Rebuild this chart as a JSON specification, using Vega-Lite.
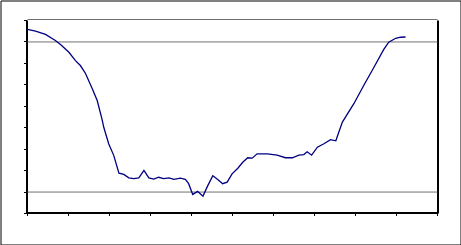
{
  "$schema": "https://vega.github.io/schema/vega-lite/v6.json",
  "width": 460,
  "height": 244,
  "padding": 0.5,
  "autosize": {"type": "none"},
  "background": "white",
  "config": {
    "view": {"stroke": "black", "strokeWidth": 1},
    "axis": {"translate": 0}
  },
  "datasets": {
    "series": [
      {"x": 0, "y": 85.9}, {"x": 1.95, "y": 85.0}, {"x": 4.4, "y": 83.5}, {"x": 6.8, "y": 80.7},
      {"x": 8.05, "y": 78.8}, {"x": 10.1, "y": 75.2}, {"x": 11.7, "y": 71.3}, {"x": 12.9, "y": 69.0},
      {"x": 14.15, "y": 65.3}, {"x": 15.8, "y": 58.2}, {"x": 17.0, "y": 52.7}, {"x": 18.2, "y": 43.8},
      {"x": 18.6, "y": 40.2}, {"x": 19.8, "y": 32.5}, {"x": 21.05, "y": 27.0}, {"x": 22.3, "y": 18.8},
      {"x": 23.5, "y": 18.2}, {"x": 24.7, "y": 16.6}, {"x": 25.9, "y": 16.3}, {"x": 27.15, "y": 16.6},
      {"x": 28.4, "y": 20.1}, {"x": 29.6, "y": 16.6}, {"x": 30.8, "y": 16.0}, {"x": 32.0, "y": 16.9},
      {"x": 33.2, "y": 16.3}, {"x": 34.5, "y": 16.6}, {"x": 35.7, "y": 15.9}, {"x": 37.3, "y": 16.5},
      {"x": 38.5, "y": 15.9}, {"x": 39.3, "y": 13.9}, {"x": 40.3, "y": 8.9}, {"x": 41.5, "y": 10.3},
      {"x": 42.8, "y": 8.1}, {"x": 44.0, "y": 13.1}, {"x": 45.2, "y": 17.6}, {"x": 46.4, "y": 15.9},
      {"x": 47.6, "y": 13.9}, {"x": 48.7, "y": 14.6}, {"x": 49.9, "y": 18.5}, {"x": 51.3, "y": 21.1},
      {"x": 52.5, "y": 23.9}, {"x": 53.7, "y": 26.0}, {"x": 54.8, "y": 25.8}, {"x": 56.0, "y": 27.8},
      {"x": 58.5, "y": 27.8}, {"x": 60.9, "y": 27.2}, {"x": 62.9, "y": 26.0}, {"x": 64.6, "y": 26.0},
      {"x": 66.2, "y": 27.2}, {"x": 67.4, "y": 27.5}, {"x": 68.2, "y": 28.8}, {"x": 69.3, "y": 27.2},
      {"x": 70.7, "y": 30.9}, {"x": 72.3, "y": 32.5}, {"x": 73.9, "y": 34.4}, {"x": 75.2, "y": 33.9},
      {"x": 76.8, "y": 42.6}, {"x": 79.6, "y": 51.2}, {"x": 82.0, "y": 59.7}, {"x": 84.5, "y": 68.2},
      {"x": 86.9, "y": 76.5}, {"x": 88.1, "y": 79.9}, {"x": 89.8, "y": 81.7}, {"x": 91.0, "y": 82.2},
      {"x": 92.2, "y": 82.3}
    ],
    "refs": [{"v": 10}, {"v": 80}]
  },
  "resolve": {"axis": {"x": "independent", "y": "independent"}},
  "layer": [
    {
      "data": {"name": "refs"},
      "mark": {"type": "rule", "color": "#707070", "strokeWidth": 1},
      "encoding": {
        "y": {
          "field": "v", "type": "quantitative",
          "scale": {"domain": [0, 90], "range": [213, 20], "nice": false, "zero": false},
          "axis": {
            "orient": "left", "values": [0, 10, 20, 30, 40, 50, 60, 70, 80, 90],
            "labels": false, "title": null, "grid": false,
            "domainColor": "black", "domainWidth": 2,
            "tickColor": "black", "tickSize": 3, "tickWidth": 1,
            "offset": -26.5
          }
        },
        "x": {
          "datum": 0, "type": "quantitative",
          "scale": {"domain": [0, 100], "range": [27, 437], "nice": false, "zero": false},
          "axis": {
            "orient": "bottom", "values": [0, 10, 20, 30, 40, 50, 60, 70, 80, 90, 100],
            "labels": false, "title": null, "grid": false,
            "domainColor": "black", "domainWidth": 2,
            "tickColor": "black", "tickSize": 3, "tickWidth": 1,
            "offset": -31.5
          }
        },
        "x2": {"datum": 100}
      }
    },
    {
      "data": {"name": "series"},
      "mark": {"type": "line", "color": "#000080", "strokeWidth": 1.3},
      "encoding": {
        "x": {
          "field": "x", "type": "quantitative",
          "axis": {
            "orient": "top", "labels": false, "ticks": false, "title": null, "grid": false,
            "domainColor": "#707070", "domainWidth": 1, "offset": -19
          }
        },
        "y": {
          "field": "y", "type": "quantitative",
          "axis": {
            "orient": "right", "labels": false, "ticks": false, "title": null, "grid": false,
            "domainColor": "black", "domainWidth": 2, "offset": -22.5
          }
        }
      }
    }
  ]
}
